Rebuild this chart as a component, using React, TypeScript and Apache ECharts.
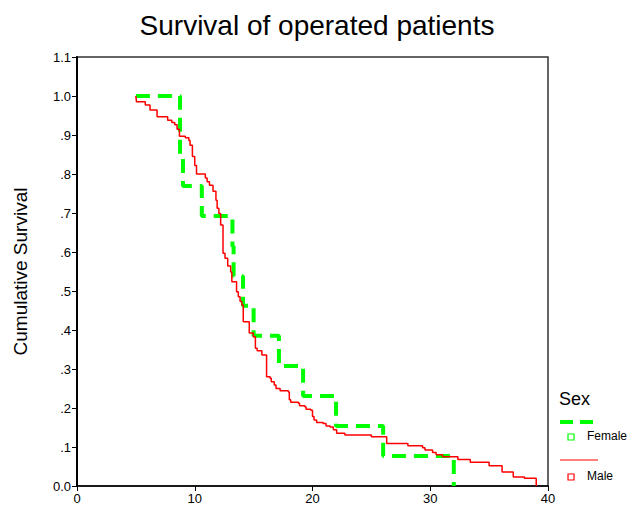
import React, { useEffect, useRef } from "react";
import * as echarts from "echarts";

const title = "Survival of operated patients";
const yAxisTitle = "Cumulative Survival";
const legendTitle = "Sex";
const seriesNames = ["Female", "Male"];

// [time, cumulative survival] — steps drop at each time
const femaleSteps: [number, number][] = [
  [5, 1.0], [8.75, 0.846], [9.0, 0.769], [10.6, 0.692], [13.2, 0.615], [13.3, 0.538],
  [14.1, 0.462], [15.0, 0.385], [17.15, 0.308], [19.2, 0.231], [22.0, 0.154],
  [26.0, 0.077], [32.0, 0.0],
];

const maleSteps: [number, number][] = [
  [5.0, 1.0], [5.05, 0.985], [5.8, 0.977], [6.2, 0.964], [6.8, 0.947], [7.7, 0.938],
  [8.05, 0.932], [8.3, 0.926], [8.5, 0.915], [8.7, 0.897], [9.2, 0.893], [9.5, 0.886],
  [9.6, 0.874], [9.8, 0.845], [10.0, 0.822], [10.15, 0.8], [10.9, 0.79], [11.05, 0.78],
  [11.25, 0.771], [11.55, 0.756], [11.8, 0.733], [11.9, 0.712], [12.05, 0.699],
  [12.2, 0.669], [12.4, 0.597], [12.57, 0.584], [12.8, 0.564], [13.05, 0.549],
  [13.15, 0.524], [13.55, 0.498], [13.7, 0.485], [13.85, 0.473], [14.0, 0.464],
  [14.12, 0.421], [14.63, 0.392], [14.97, 0.383], [15.15, 0.353], [15.3, 0.347],
  [15.7, 0.336], [16.1, 0.28], [16.4, 0.276], [16.5, 0.267], [16.75, 0.259],
  [16.9, 0.25], [17.25, 0.244], [17.95, 0.241], [18.03, 0.221], [18.15, 0.215],
  [18.8, 0.212], [18.9, 0.206], [19.35, 0.203], [19.45, 0.197], [19.85, 0.194],
  [20.0, 0.178], [20.13, 0.169], [20.35, 0.163], [20.9, 0.16], [21.15, 0.154],
  [21.5, 0.151], [21.77, 0.144], [22.05, 0.135], [22.75, 0.131], [25.0, 0.126],
  [26.3, 0.109], [28.1, 0.103], [29.35, 0.098], [29.55, 0.092], [30.2, 0.086],
  [30.5, 0.08], [31.05, 0.075], [32.35, 0.068], [33.4, 0.061], [35.0, 0.052],
  [36.1, 0.036], [37.05, 0.023], [38.0, 0.02], [39.0, 0.0],
];

const xTicks = [0, 10, 20, 30, 40];
const yMin = 0;
const yMax = 1.1;
const yInterval = 0.1;

const FONT = "'Liberation Sans', Arial, sans-serif";
const GREEN = "#00ff00";
const RED = "#ff0000";

function yLabel(v: number): string {
  const t = Math.round(v * 10);
  if (t === 0) return "0.0";
  if (t >= 10) return (t / 10).toFixed(1);
  return "." + t;
}

export default function App() {
  const ref = useRef<HTMLDivElement>(null);
  useEffect(() => {
    document.body.style.margin = "0";
    if (!ref.current) return;
    const chart = echarts.init(ref.current, undefined, { renderer: "svg" });
    chart.setOption({
      animation: false,
      backgroundColor: "#ffffff",
      title: {
        text: title,
        left: 312,
        top: 6,
        textAlign: "center",
        textStyle: { fontFamily: FONT, fontSize: 28, fontWeight: "normal", color: "#000" },
      },
      grid: {
        left: 77,
        right: 87,
        top: 57,
        bottom: 24,
        show: true,
        borderColor: "#333",
        borderWidth: 1.5,
        backgroundColor: "#fff",
      },
      xAxis: {
        type: "value",
        min: xTicks[0],
        max: xTicks[xTicks.length - 1],
        interval: 10,
        axisLine: { show: true, onZero: false, lineStyle: { color: "#000", width: 1.5 } },
        axisTick: { show: true, inside: false, length: 5, lineStyle: { color: "#000" } },
        splitLine: { show: false },
        axisLabel: { fontFamily: FONT, fontSize: 13, color: "#000", margin: 6 },
      },
      yAxis: {
        type: "value",
        min: yMin,
        max: yMax,
        interval: yInterval,
        name: yAxisTitle,
        nameLocation: "middle",
        nameGap: 47,
        nameTextStyle: { fontFamily: FONT, fontSize: 19, color: "#000" },
        axisLine: { show: true, lineStyle: { color: "#000", width: 2 } },
        axisTick: { show: true, inside: false, length: 5, lineStyle: { color: "#000" } },
        splitLine: { show: false },
        axisLabel: { fontFamily: FONT, fontSize: 13, color: "#000", margin: 6, formatter: yLabel },
      },
      series: [
        {
          name: seriesNames[0],
          type: "line",
          step: "end",
          showSymbol: false,
          data: femaleSteps,
          lineStyle: { color: GREEN, width: 4, type: [14, 8] },
          z: 2,
        },
        {
          name: seriesNames[1],
          type: "line",
          step: "end",
          showSymbol: false,
          data: maleSteps,
          lineStyle: { color: RED, width: 1.5 },
          z: 3,
        },
      ],
      graphic: [
        {
          type: "text",
          left: 559,
          top: 390,
          style: { text: legendTitle, font: `18px ${FONT}`, fill: "#000" },
        },
        {
          type: "line",
          shape: { x1: 560, y1: 422, x2: 598, y2: 422 },
          style: { stroke: GREEN, lineWidth: 4, lineDash: [13, 7] },
        },
        {
          type: "rect",
          shape: { x: 568, y: 434, width: 6, height: 6 },
          style: { stroke: GREEN, fill: "#fff", lineWidth: 1.2 },
        },
        {
          type: "text",
          left: 587,
          top: 430,
          style: { text: seriesNames[0], font: `12px ${FONT}`, fill: "#000" },
        },
        {
          type: "line",
          shape: { x1: 560, y1: 460, x2: 598, y2: 460 },
          style: { stroke: RED, lineWidth: 1.2 },
        },
        {
          type: "rect",
          shape: { x: 568, y: 474, width: 6, height: 6 },
          style: { stroke: RED, fill: "#fff", lineWidth: 1.2 },
        },
        {
          type: "text",
          left: 587,
          top: 470,
          style: { text: seriesNames[1], font: `12px ${FONT}`, fill: "#000" },
        },
      ],
    });
    return () => chart.dispose();
  }, []);
  return <div ref={ref} style={{ width: 635, height: 510 }} />;
}
